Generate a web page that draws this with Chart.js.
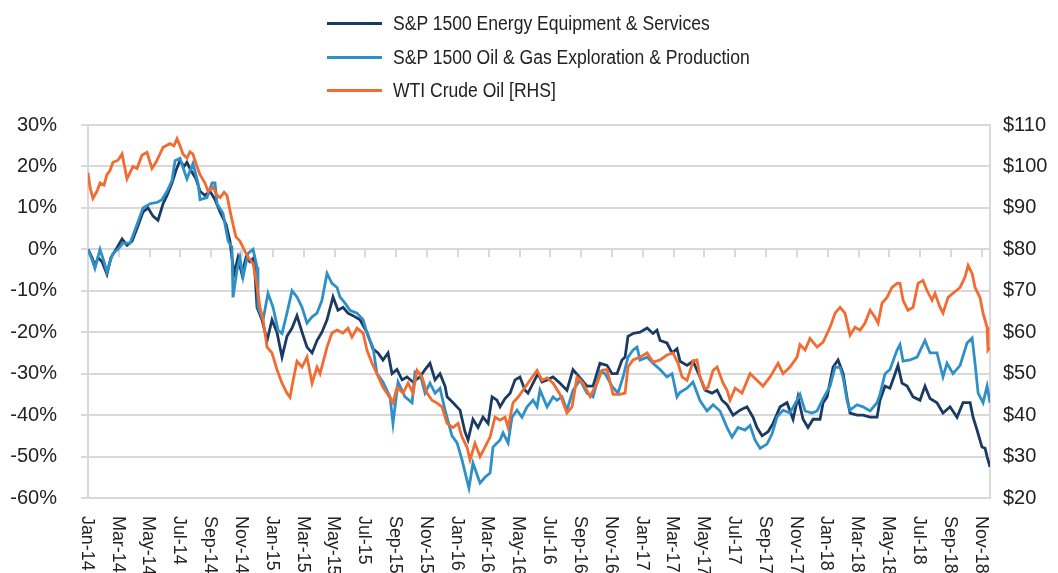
<!DOCTYPE html>
<html>
<head>
<meta charset="utf-8">
<script src="https://cdn.jsdelivr.net/npm/chart.js@4.4.1/dist/chart.umd.min.js"></script>
<style>
  html, body { margin: 0; padding: 0; background: #fff; }
  #wrap { position: relative; width: 1058px; height: 573px; overflow: hidden; }
  #legend { position: absolute; left: 327px; top: 0; font-family: "Liberation Sans", Arial, sans-serif; font-size: 19.5px; color: #222; }
  .item { position: absolute; left: 0; white-space: nowrap; height: 24px; }
  .swatch { position: absolute; left: 0; top: 11px; width: 55px; height: 3px; }
  .label { position: absolute; left: 66px; top: 0; line-height: 24px; transform: scaleX(0.9); transform-origin: 0 50%; }
</style>
</head>
<body>
<div id="wrap">
  <canvas id="c" width="1058" height="573"></canvas>
  <div id="legend"></div>
</div>
<script>
// Months since Jan-2014 (x) and values (y)
const tickLabels = ["Jan-14","Mar-14","May-14","Jul-14","Sep-14","Nov-14","Jan-15","Mar-15","May-15","Jul-15","Sep-15","Nov-15","Jan-16","Mar-16","May-16","Jul-16","Sep-16","Nov-16","Jan-17","Mar-17","May-17","Jul-17","Sep-17","Nov-17","Jan-18","Mar-18","May-18","Jul-18","Sep-18","Nov-18"];
const seriesNames = ["S&P 1500 Energy Equipment & Services", "S&P 1500 Oil & Gas Exploration & Production", "WTI Crude Oil [RHS]"];
const seriesColors = ["#1b3a62", "#2f90c8", "#f26b30"];

// S&P 1500 Energy Equipment & Services, % change
const energyEquipment = [[0,0],[0.26,-2],[0.45,-4],[0.65,-2],[0.91,-3],[1.23,-6],[1.49,-2],[1.82,0],[2.21,2.5],[2.53,1],
[2.86,2],[3.18,5],[3.57,9],[3.89,10],[4.22,8],[4.54,7],[4.87,11],[5.13,13],[5.45,16],[5.71,19],
[5.97,21.5],[6.23,20],[6.42,21],[6.68,19],[7.01,17],[7.27,14],[7.59,13],[7.92,14],[8.24,12],[8.57,9],
[8.96,6],[9.21,2],[9.47,-6],[9.73,-2],[9.99,-6],[10.25,-2],[10.51,-3],[10.77,-2],[10.97,-14],[11.29,-17],
[11.62,-22],[11.94,-17],[12.26,-20],[12.59,-26],[12.91,-21],[13.24,-19],[13.56,-16],[13.89,-20],[14.21,-23.6],[14.54,-25],
[14.86,-22],[15.18,-20],[15.51,-17],[15.90,-11.5],[16.22,-14.7],[16.55,-14],[16.87,-15.4],[17.20,-16],[17.65,-17],[18.10,-20],
[18.49,-24],[18.82,-25],[19.14,-26.7],[19.47,-25],[19.73,-30],[20.05,-29],[20.38,-31.5],[20.70,-30.8],[21.09,-32],[21.54,-30.8],
[21.87,-29],[22.19,-27.5],[22.52,-31.5],[22.84,-30],[23.17,-33],[23.30,-35.6],[23.69,-37],[24.14,-38.8],[24.46,-44],[24.66,-46],
[24.98,-41],[25.31,-43],[25.63,-40.5],[25.96,-42],[26.22,-35.6],[26.54,-36.4],[26.74,-38],[27.06,-36],[27.39,-34.7],[27.71,-31.5],
[28.03,-30.8],[28.36,-34],[28.55,-34.7],[28.88,-32.3],[29.20,-30],[29.46,-32],[29.79,-31.5],[30.18,-30.8],[30.63,-32.3],[31.08,-34],
[31.47,-29],[31.93,-31],[32.38,-33],[32.77,-33],[33.22,-27.5],[33.68,-28],[34.00,-30],[34.33,-30],[34.65,-26.7],[34.85,-26],
[35.04,-21],[35.37,-20.3],[35.82,-20],[36.28,-19],[36.66,-20.3],[36.92,-19.5],[37.12,-22],[37.57,-22.6],[37.90,-25],[38.22,-24],
[38.42,-27],[38.87,-28],[39.26,-27],[39.71,-30.8],[40.04,-34],[40.49,-34.7],[40.82,-34],[41.14,-36.4],[41.47,-37.5],[41.86,-40],
[42.31,-38.8],[42.76,-38],[43.15,-40.5],[43.41,-43],[43.74,-45],[44.13,-44],[44.45,-42],[44.91,-38],[45.36,-37],[45.75,-41],
[46.07,-35.6],[46.40,-41],[46.72,-43],[47.05,-41],[47.50,-41],[47.70,-37],[47.96,-35.6],[48.35,-28.4],[48.67,-26.7],[49.00,-30],
[49.26,-36],[49.45,-39.5],[49.90,-40],[50.29,-40],[50.75,-40.5],[51.20,-40.5],[51.39,-36.4],[51.72,-33],[52.04,-33.5],[52.37,-30],
[52.56,-28],[52.82,-32.3],[53.15,-33],[53.54,-35.6],[53.99,-36.4],[54.31,-33],[54.64,-36],[55.09,-37],[55.48,-39.5],[55.94,-38],
[56.39,-40.5],[56.78,-37],[57.24,-37],[57.43,-40.5],[57.69,-43.6],[58.01,-47.7],[58.21,-48],[58.34,-50],[58.53,-52.5]];

// S&P 1500 Oil & Gas Exploration & Production, % change
const oilGasEP = [[0,0],[0.26,-2.5],[0.45,-4.6],[0.78,0],[1.04,-3],[1.23,-5.5],[1.43,-3],[1.62,-1],[1.95,0],[2.27,1.5],
[2.73,1.5],[3.18,6],[3.57,10],[4.02,11],[4.48,11.3],[4.80,12],[5.13,14],[5.45,16.6],[5.65,21.4],[5.97,22],
[6.23,19],[6.42,17],[6.81,20.7],[7.14,16],[7.27,12],[7.72,12.5],[8.05,16],[8.24,16],[8.37,11],[8.76,8.7],
[9.09,2],[9.34,0.5],[9.41,-11.6],[9.67,-5],[9.86,-2],[10.06,-6.7],[10.38,-1],[10.71,0],[10.97,-4.3],[11.03,-14],
[11.36,-17],[11.68,-10.6],[12.01,-14],[12.33,-19.5],[12.59,-20.3],[12.91,-15.4],[13.24,-10],[13.56,-11.5],[13.89,-14],[14.21,-17.8],
[14.54,-16.3],[14.86,-15.4],[15.18,-12.3],[15.51,-5.8],[15.83,-8.2],[16.16,-9.2],[16.35,-11.5],[16.68,-13],[17.00,-14.7],[17.46,-15.4],
[17.85,-17],[18.17,-21],[18.49,-23.6],[18.75,-30],[19.14,-32],[19.60,-35.6],[19.79,-42],[20.12,-32],[20.57,-35.6],[21.03,-37],
[21.22,-29.6],[21.54,-30],[21.87,-34.7],[22.19,-32.3],[22.52,-34.7],[22.84,-33.5],[23.17,-38.8],[23.62,-45],[23.95,-46.7],[24.27,-50.8],
[24.59,-55.7],[24.72,-57.6],[24.98,-51.6],[25.44,-56.4],[25.76,-55],[26.09,-54],[26.28,-47.7],[26.74,-46],[26.93,-44.3],[27.26,-46.7],
[27.51,-40.5],[27.84,-38.8],[28.16,-40.5],[28.49,-38],[28.88,-36.4],[29.14,-38],[29.33,-34],[29.79,-38],[30.18,-35.6],[30.43,-36.4],
[30.76,-35.6],[31.08,-38.8],[31.47,-34],[31.93,-31.5],[32.38,-34.7],[32.77,-35.6],[33.22,-29.5],[33.55,-30],[34.00,-33],[34.39,-34.7],
[34.72,-30.8],[35.04,-26],[35.37,-24.3],[35.63,-23.6],[35.82,-26.7],[36.28,-26],[36.66,-27.5],[37.12,-29],[37.57,-30.8],[37.90,-30],
[38.22,-35.6],[38.42,-34.5],[38.87,-33.5],[39.26,-32],[39.71,-36.5],[40.17,-39],[40.56,-37.5],[41.01,-39],[41.47,-43],[41.79,-45.3],
[42.18,-43],[42.63,-43.6],[42.96,-42.5],[43.28,-46],[43.61,-48],[44.06,-47],[44.39,-44.5],[44.71,-40.5],[45.10,-38.8],[45.55,-39.5],
[46.01,-36.4],[46.20,-35],[46.53,-39],[46.98,-39.5],[47.31,-39],[47.70,-36],[48.15,-33],[48.48,-28.4],[48.80,-28.5],[49.00,-31],
[49.26,-36.5],[49.45,-38.8],[49.90,-37.5],[50.29,-38],[50.75,-39],[51.20,-37],[51.39,-35],[51.72,-30],[52.04,-29],[52.50,-24.3],
[52.69,-23],[52.89,-27],[53.34,-26.7],[53.80,-26],[54.31,-22],[54.64,-25],[55.09,-25],[55.48,-30.8],[55.74,-27.5],[56.13,-30],
[56.59,-28],[57.04,-22.6],[57.37,-21.4],[57.56,-27.5],[57.76,-34.7],[58.08,-37],[58.34,-33],[58.53,-37]];

// WTI Crude Oil, US$ per barrel (right axis)
const wtiCrude = [[0,98.5],[0.13,95],[0.32,92.3],[0.58,94],[0.78,96],[1.04,95.5],[1.23,98],[1.43,99],[1.62,101],[1.95,101.5],
[2.21,103],[2.53,97],[2.92,100],[3.18,99.5],[3.50,102.7],[3.83,103.4],[4.15,99.5],[4.41,101],[4.67,103],[4.87,104.6],
[5.32,105.5],[5.58,105],[5.78,106.7],[5.97,105],[6.16,103],[6.42,102],[6.62,103.5],[6.81,103],[7.07,100],[7.27,98],
[7.59,96],[7.79,94],[8.11,95],[8.37,93],[8.57,92.5],[8.83,93.8],[9.02,93],[9.21,89.4],[9.41,86],[9.60,83],
[9.86,82],[10.06,80.5],[10.32,78.5],[10.51,77.5],[10.71,76.6],[10.97,71],[11.16,66],[11.36,63],[11.62,56.4],[11.94,55],
[12.26,51],[12.59,47.7],[12.91,45.3],[13.11,44.3],[13.24,47],[13.56,53],[13.89,51.6],[14.21,54],[14.54,47.7],[14.86,51.6],
[15.06,50],[15.51,56.4],[15.83,59.8],[16.16,60.5],[16.55,59.8],[16.87,61],[17.13,58.8],[17.46,61],[17.85,59.8],[18.10,55.7],
[18.43,52.5],[18.75,50],[19.14,46.7],[19.40,45.3],[19.79,43],[20.05,46.7],[20.44,45.3],[20.77,47.7],[21.09,45.3],[21.35,50.8],
[21.67,49.2],[22.00,45.3],[22.32,43.6],[22.65,42.9],[22.97,42],[23.30,38],[23.69,37],[24.01,38],[24.27,34.7],[24.59,32.3],
[24.79,29.2],[25.11,33.2],[25.44,30],[25.76,32.3],[26.09,34.7],[26.41,39.5],[26.74,38.8],[27.06,39.5],[27.26,37],[27.58,43],
[27.90,44.3],[28.36,46.7],[28.68,48.4],[29.14,50.8],[29.46,48.4],[29.79,49],[30.18,47.7],[30.63,45],[31.08,40.5],[31.41,42],
[31.73,49.2],[32.12,47.7],[32.58,44.5],[33.03,47.7],[33.36,50.8],[33.68,51],[34.07,45],[34.52,45],[34.85,45.3],[35.04,51.6],
[35.37,53.3],[35.82,54],[36.28,55],[36.66,52.8],[37.12,53.3],[37.57,54.5],[37.96,55],[38.29,52.5],[38.55,49.2],[38.87,48.4],
[39.26,53],[39.52,53.3],[39.71,49.2],[40.04,46.3],[40.23,46.7],[40.56,50.8],[40.82,51.6],[41.21,47.7],[41.47,46],[41.66,43.6],
[41.99,46.5],[42.44,45.3],[42.96,50],[43.41,48.4],[43.80,47],[44.26,49.2],[44.78,52.5],[45.10,50],[45.55,51.6],[46.01,54],
[46.20,57],[46.53,55.7],[46.85,58.5],[47.31,56.4],[47.70,57.6],[48.15,61.2],[48.48,64.6],[48.80,66],[49.12,64.6],[49.45,59.3],
[49.77,61.2],[50.10,60.5],[50.42,62.2],[50.75,65.3],[51.07,63.6],[51.27,62.2],[51.52,67],[51.85,68.4],[52.17,70.8],[52.50,71.8],
[52.69,71.8],[52.89,67.7],[53.21,65.3],[53.54,66],[53.86,71.8],[54.18,72.5],[54.45,70],[54.77,67.7],[54.96,69.4],[55.29,66],
[55.48,64.6],[55.81,68.4],[56.13,69.4],[56.59,70.8],[56.91,73.3],[57.11,76.1],[57.37,74.2],[57.56,70.8],[57.88,68.4],[58.08,64.6],
[58.34,61.2],[58.40,55.7],[58.53,56.4]];

const FONT = '"Liberation Sans", Arial, sans-serif';
const TEXT = '#222';
const GRID = '#d9d9d9';

// HTML legend (stacked, left aligned)
const legendEl = document.getElementById('legend');
const rowTops = [11, 45, 78];
seriesNames.forEach((name, i) => {
  const it = document.createElement('div');
  it.className = 'item';
  it.style.top = rowTops[i] + 'px';
  const sw = document.createElement('div');
  sw.className = 'swatch';
  sw.style.background = seriesColors[i];
  const lb = document.createElement('div');
  lb.className = 'label';
  lb.textContent = name;
  it.appendChild(sw); it.appendChild(lb);
  legendEl.appendChild(it);
});

const toXY = arr => arr.map(p => ({x: p[0], y: p[1]}));

const axisDecor = {
  id: 'axisDecor',
  beforeDatasetsDraw(chart) {
    const ctx = chart.ctx, xs = chart.scales.x, ys = chart.scales.y;
    const y0 = ys.getPixelForValue(0);
    ctx.save();
    ctx.strokeStyle = GRID; ctx.lineWidth = 2;
    tickLabels.forEach((t, i) => {
      const px = Math.round(xs.getPixelForValue(i * 2));
      ctx.beginPath(); ctx.moveTo(px, y0); ctx.lineTo(px, y0 + 8); ctx.stroke();
    });
    ctx.restore();
  },
  afterDraw(chart) {
    const ctx = chart.ctx, xs = chart.scales.x;
    ctx.save();
    ctx.fillStyle = TEXT;
    ctx.font = '19px ' + FONT;
    ctx.textAlign = 'left';
    ctx.textBaseline = 'middle';
    tickLabels.forEach((t, i) => {
      const px = xs.getPixelForValue(i * 2);
      ctx.save();
      ctx.translate(px - 1, chart.chartArea.bottom + 18);
      ctx.rotate(Math.PI / 2);
      ctx.scale(0.94, 1);
      ctx.fillText(t, 0, 0);
      ctx.restore();
    });
    ctx.restore();
  }
};

new Chart(document.getElementById('c'), {
  type: 'line',
  data: {
    datasets: [
      { label: seriesNames[0], data: toXY(energyEquipment), yAxisID: 'y', borderColor: seriesColors[0], backgroundColor: seriesColors[0], borderWidth: 2.8, pointRadius: 0, tension: 0, order: 2 },
      { label: seriesNames[1], data: toXY(oilGasEP), yAxisID: 'y', borderColor: seriesColors[1], backgroundColor: seriesColors[1], borderWidth: 2.8, pointRadius: 0, tension: 0, order: 1 },
      { label: seriesNames[2], data: toXY(wtiCrude), yAxisID: 'y1', borderColor: seriesColors[2], backgroundColor: seriesColors[2], borderWidth: 2.8, pointRadius: 0, tension: 0, order: 0 }
    ]
  },
  options: {
    responsive: false,
    animation: false,
    devicePixelRatio: 1,
    layout: { padding: { top: 125, left: 0, right: 0, bottom: 0 } },
    plugins: { legend: { display: false }, tooltip: { enabled: false } },
    scales: {
      x: {
        type: 'linear', min: 0, max: 58.53,
        ticks: { display: false },
        grid: { display: false, drawTicks: false },
        border: { display: false },
        afterFit(s) { s.height = 75; s.paddingLeft = 0; s.paddingRight = 0; }
      },
      y: {
        position: 'left', min: -60, max: 30,
        ticks: { stepSize: 10, callback: v => v + '%', color: TEXT, font: { family: FONT, size: 20 }, padding: 24 },
        grid: { color: GRID, lineWidth: 2, drawTicks: true, tickLength: 7 },
        border: { display: true, color: GRID, width: 2 },
        afterFit(s) { s.width = 88; s.paddingTop = 0; s.paddingBottom = 0; }
      },
      y1: {
        position: 'right', min: 20, max: 110,
        ticks: { stepSize: 10, callback: v => '$' + v, color: TEXT, font: { family: FONT, size: 20 }, padding: 13 },
        grid: { display: false, drawTicks: false, tickLength: 0 },
        border: { display: true, color: GRID, width: 2 },
        afterFit(s) { s.width = 68; s.paddingTop = 0; s.paddingBottom = 0; }
      }
    }
  },
  plugins: [axisDecor]
});
</script>
</body>
</html>
